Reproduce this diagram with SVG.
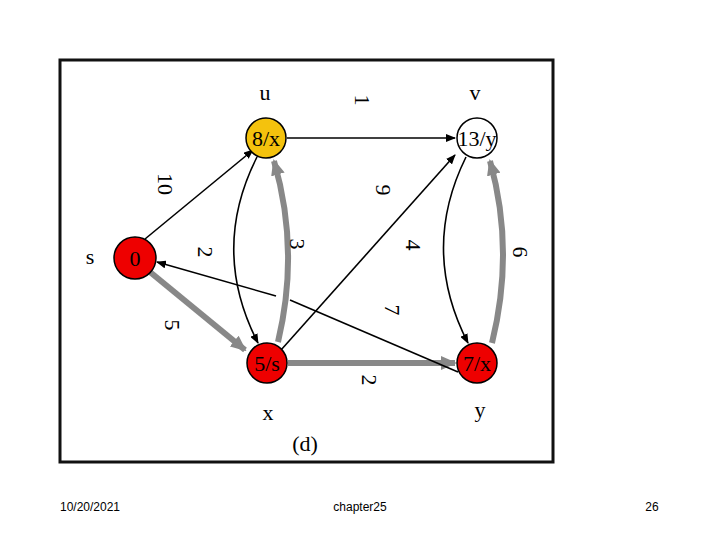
<svg xmlns="http://www.w3.org/2000/svg" width="720" height="540" viewBox="0 0 720 540">
<style>
.t{font-family:"Liberation Serif",serif;font-size:22px;fill:#000;text-anchor:middle}
.f{font-family:"Liberation Sans",sans-serif;font-size:12px;fill:#000;text-anchor:middle}
.b{stroke:#000;stroke-width:1.6;fill:none;marker-end:url(#ab)}
.g{stroke:#888;stroke-width:6;fill:none;marker-end:url(#ag)}
.n{stroke:#000;stroke-width:1.5}
</style>
<defs>
<marker id="ab" markerWidth="10" markerHeight="8" refX="9" refY="4" orient="auto" markerUnits="userSpaceOnUse"><path d="M0,0L10,4L0,8z" fill="#000"/></marker>
<marker id="ag" markerWidth="16" markerHeight="14" refX="14" refY="7" orient="auto" markerUnits="userSpaceOnUse"><path d="M0,0L16,7L0,14z" fill="#888"/></marker>
</defs>
<rect width="720" height="540" fill="#fff"/>
<rect x="60" y="60" width="493" height="402" fill="none" stroke="#111" stroke-width="3"/>
<g id="connectors">
<path class="g" d="M150,272L245,350"/>
<path class="g" d="M288,363L455,363"/>
<path class="g" d="M278,342Q300,250 274,161"/>
<path class="g" d="M492,343Q515,250 490,161"/>
<path class="b" d="M145,239L253,150"/>
<path class="b" d="M287,138L455,138"/>
<path class="b" d="M281,350L455,155"/>
<path class="b" d="M257,157Q210,250 258,343"/>
<path class="b" d="M466,157Q420,250 468,343"/>
<path stroke="#000" stroke-width="1.6" fill="none" d="M458,372L290,300"/>
<path class="b" d="M276,296L157,262"/>
</g>
<g id="s"><circle class="n" cx="135" cy="258" r="21" fill="#e00"/><text class="t" x="135" y="266">0</text></g>
<g id="u"><circle class="n" cx="266" cy="138" r="20" fill="#f4c20d"/><text class="t" x="266" y="146">8/x</text></g>
<g id="v"><circle class="n" cx="477" cy="138" r="20" fill="#fff"/><text class="t" x="477" y="146">13/y</text></g>
<g id="x"><circle class="n" cx="267" cy="363" r="20" fill="#e00"/><text class="t" x="267" y="371">5/s</text></g>
<g id="y"><circle class="n" cx="477" cy="363" r="20" fill="#e00"/><text class="t" x="477" y="371">7/x</text></g>
<g id="labels">
<text class="t" x="265" y="100">u</text>
<text class="t" x="475" y="100">v</text>
<text class="t" x="90" y="264">s</text>
<text class="t" x="268" y="420">x</text>
<text class="t" x="480" y="417">y</text>
<text class="t" x="305" y="451">(d)</text>
<g class="t">
<text transform="translate(362,100) rotate(90)" y="7">1</text>
<text transform="translate(165,184) rotate(90)" y="7">10</text>
<text transform="translate(383,190) rotate(90)" y="7">9</text>
<text transform="translate(205,252) rotate(90)" y="7">2</text>
<text transform="translate(297,244) rotate(90)" y="7">3</text>
<text transform="translate(413,245) rotate(90)" y="7">4</text>
<text transform="translate(520,252) rotate(90)" y="7">6</text>
<text transform="translate(392,310) rotate(90)" y="7">7</text>
<text transform="translate(172,325) rotate(90)" y="7">5</text>
<text transform="translate(369,380) rotate(90)" y="7">2</text>
</g>
<text class="f" x="90" y="511">10/20/2021</text>
<text class="f" x="360" y="511">chapter25</text>
<text class="f" x="652" y="511">26</text>
</g>
</svg>
